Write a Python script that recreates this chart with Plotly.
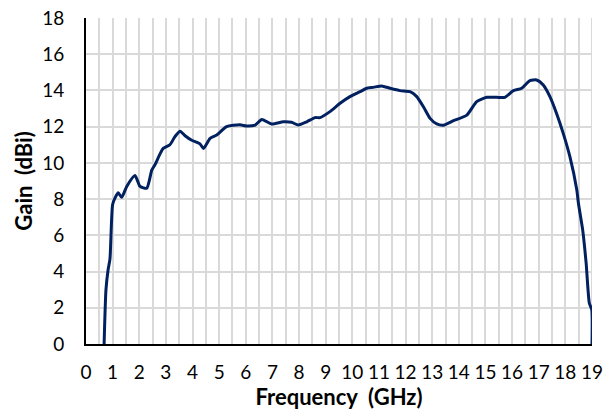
import plotly.graph_objects as go

freq_ghz = [0.68, 0.75, 0.83, 0.90, 1.00, 1.10, 1.21, 1.34, 1.53, 1.84, 2.03, 2.28, 2.47, 2.59,
            2.78, 2.90, 3.15, 3.34, 3.53, 3.72, 3.97, 4.28, 4.41, 4.66, 4.91, 5.28, 5.78,
            6.03, 6.35, 6.60, 6.97, 7.41, 7.72, 7.97, 8.29, 8.60, 8.79, 9.16, 9.54, 9.91,
            10.29, 10.54, 10.79, 11.10, 11.42, 11.79, 12.17, 12.42, 12.67, 12.92, 13.17,
            13.42, 13.80, 14.30, 14.67, 15.05, 15.42, 15.73, 16.05, 16.36, 16.67, 16.92,
            17.17, 17.42, 17.67, 17.92, 18.17, 18.43, 18.49, 18.65, 18.78, 18.90, 18.99, 19.00]
gain_dbi = [0.0, 3.0, 4.1, 4.7, 7.7, 8.1, 8.35, 8.1, 8.7, 9.3, 8.7, 8.6, 9.6, 9.9,
            10.5, 10.8, 11.0, 11.45, 11.75, 11.5, 11.25, 11.05, 10.8, 11.35, 11.54, 12.0, 12.1,
            12.04, 12.09, 12.4, 12.15, 12.27, 12.24, 12.09, 12.27, 12.5, 12.5, 12.83, 13.29, 13.66,
            13.93, 14.12, 14.17, 14.25, 14.12, 13.99, 13.93, 13.66, 13.1, 12.46, 12.15,
            12.08, 12.33, 12.64, 13.38, 13.62, 13.62, 13.62, 13.99, 14.12, 14.54, 14.58,
            14.3, 13.66, 12.73, 11.63, 10.34, 8.5, 7.77, 6.3, 4.46, 2.25, 1.9, 0.0]

x_ticks = list(range(0, 20))
y_ticks = list(range(0, 19, 2))

FONT = "Lato"

fig = go.Figure()
fig.add_trace(go.Scatter(
    x=freq_ghz, y=gain_dbi, mode="lines",
    line=dict(color="#002060", width=3, shape="spline", smoothing=0.6),
    showlegend=False, cliponaxis=False,
))

fig.update_layout(
    width=611, height=415,
    margin=dict(l=86, r=19, t=18, b=71),
    paper_bgcolor="white", plot_bgcolor="white",
    font=dict(family=FONT, size=19, color="#000000"),
)
fig.update_xaxes(
    range=[0, 19], tickvals=x_ticks, ticktext=[str(v) for v in x_ticks],
    showgrid=True, gridcolor="#d9d9d9", gridwidth=2,
    minor=dict(dtick=0.5, tick0=0, showgrid=True, gridcolor="#d9d9d9", gridwidth=2),
    showline=True, linecolor="black", linewidth=2,
    ticks="", ticklabelstandoff=10, zeroline=False, automargin=False,
    ticklabeloverflow="allow",
    title=dict(text="<b>Frequency\u00a0\u00a0(GHz)</b>", font=dict(family=FONT, size=22), standoff=2),
)
fig.update_yaxes(
    range=[0, 18], tickvals=y_ticks, ticktext=[str(v) for v in y_ticks],
    showgrid=True, gridcolor="#d9d9d9", gridwidth=2,
    showline=True, linecolor="black", linewidth=2,
    ticks="", ticklabelstandoff=16, zeroline=False, automargin=False,
    ticklabeloverflow="allow",
    title=dict(text="<b>Gain\u00a0\u00a0(dBi)</b>", font=dict(family=FONT, size=22), standoff=3),
)
fig.add_shape(type="line", xref="x", yref="y", x0=19, x1=19, y0=0, y1=18,
              line=dict(color="#d9d9d9", width=2), layer="below")
fig.write_html("out.html", config={"displayModeBar": False},
               post_script="document.body.style.margin='0';document.body.style.padding='0';")
